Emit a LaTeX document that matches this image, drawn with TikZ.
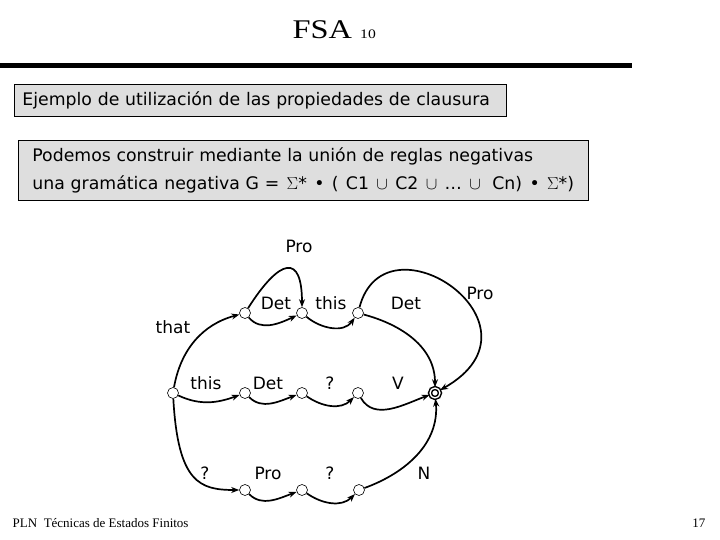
\documentclass[tikz,border=0pt]{standalone}
\usepackage{fontspec}
\setmainfont{Liberation Serif}
\newfontfamily\slidefont{DejaVu Sans}
\newfontfamily\headfont[FakeStretch=1.2]{Liberation Serif}
\usetikzlibrary{arrows.meta, positioning}
\newcommand{\gap}{\hspace{1.6pt}}

\begin{document}
\begin{tikzpicture}[
  x=1pt, y=1pt,
  line width=1.4pt,
  arrow/.style={line width=1.7pt, -{Stealth[length=8pt,width=6pt]}},
  lbl/.style={font=\slidefont\fontsize{17}{17}\selectfont, inner sep=0pt},
  textbox/.style={draw, fill=black!13, line width=0.8pt, align=left,
    font=\slidefont\fontsize{17.3}{28}\selectfont}
]
\tikzstyle{state}=[draw,circle,fill=white,line width=0.6pt,minimum size=11pt,inner sep=0pt]
\tikzstyle{accept}=[draw,circle,line width=1.5pt,double,double distance=1.3pt,minimum size=10pt,inner sep=0pt]
\useasboundingbox (0,0) rectangle (720,540);

% Header
\node[anchor=base west, inner sep=0pt] (fsa) at (292,501)
  {\headfont\fontsize{27}{27}\selectfont FSA\ {\fontsize{13}{13}\selectfont 10}};
\draw[line width=5pt] (0,474) -- (632,474);

% Boxes
\node[textbox, anchor=north west, text width=476pt, inner xsep=8pt,
  minimum height=32pt] (intro) at (14,456)
  {Ejemplo de utilización de las propiedades de clausura};
\node[textbox, anchor=north west, text width=542pt, inner xsep=14pt,
  minimum height=60pt] (rule) at (18,400)
  {Podemos construir mediante la unión de reglas negativas\\
   \mbox{una gramática negativa G =\gap{} $\Sigma$*\gap{} •\gap{} (\gap{} C1\gap{} $\cup$\gap{} C2\gap{} $\cup$\gap{} …\gap{} $\cup$\ \ Cn)\gap{} •\gap{} $\Sigma$*)}};

% States
\node[state] (s0) at (173,147) {};
\node[state] (a1) at (245,227) {};
\node[state] (a2) at (302,227) {};
\node[state] (a3) at (358,227) {};
\node[state] (b1) at (245,147) {};
\node[state] (b2) at (302,147) {};
\node[state] (b3) at (358,147) {};
\node[state] (c1) at (245,50) {};
\node[state] (c2) at (302,50) {};
\node[state] (c3) at (359,50) {};
\node[accept] (fin) at (435,147) {};

% Labels
\node[lbl] (lpro) at (299,294) {Pro};
\node[lbl] (ldet1) at (276,237) {Det};
\node[lbl] (lthis1) at (331,237) {this};
\node[lbl] (ldet2) at (406,237) {Det};
\node[lbl] (lpro2) at (480,247) {Pro};
\node[lbl] (lthat) at (173,213) {that};
\node[lbl] (lthis2) at (206,157) {this};
\node[lbl] (ldet3) at (268,157) {Det};
\node[lbl] (lq1) at (330,157) {?};
\node[lbl] (lv) at (398,157) {V};
\node[lbl] (lq2) at (205,67) {?};
\node[lbl] (lpro3) at (268,67) {Pro};
\node[lbl] (lq3) at (330,67) {?};
\node[lbl] (ln) at (424,67) {N};

% Top path
\draw[arrow] (s0) to[out=80,in=195] (a1);
\draw[arrow] (a1) to[out=-50,in=205] (a2);
\draw[arrow] (a2) to[out=-40,in=235] (a3);
\draw[arrow] (a1) .. controls +(35,55) and +(0,60) .. (a2);
\draw[arrow] (a3) to[out=-15,in=90] (fin);
\draw[arrow] (a3) .. controls (385,330) and (555,215) .. (fin);

% Middle path
\draw[arrow] (s0) to[out=-25,in=200] (b1);
\draw[arrow] (b1) to[out=-45,in=200] (b2);
\draw[arrow] (b2) to[out=-35,in=225] (b3);
\draw[arrow] (b3) to[out=-60,in=200] (fin);

% Bottom path
\draw[arrow] (s0) .. controls +(5,-90) and +(-45,0) .. (c1);
\draw[arrow] (c1) to[out=-45,in=200] (c2);
\draw[arrow] (c2) to[out=-35,in=225] (c3);
\draw[arrow] (c3) to[out=20,in=-85] (fin);

% Footer
\node[anchor=base west, inner sep=0pt] (pln) at (12,12)
  {\fontsize{13}{13}\selectfont PLN\ \ Técnicas de Estados Finitos};
\node[anchor=base east, inner sep=0pt] (page) at (706,12)
  {\fontsize{13}{13}\selectfont 17};
\end{tikzpicture}
\end{document}
